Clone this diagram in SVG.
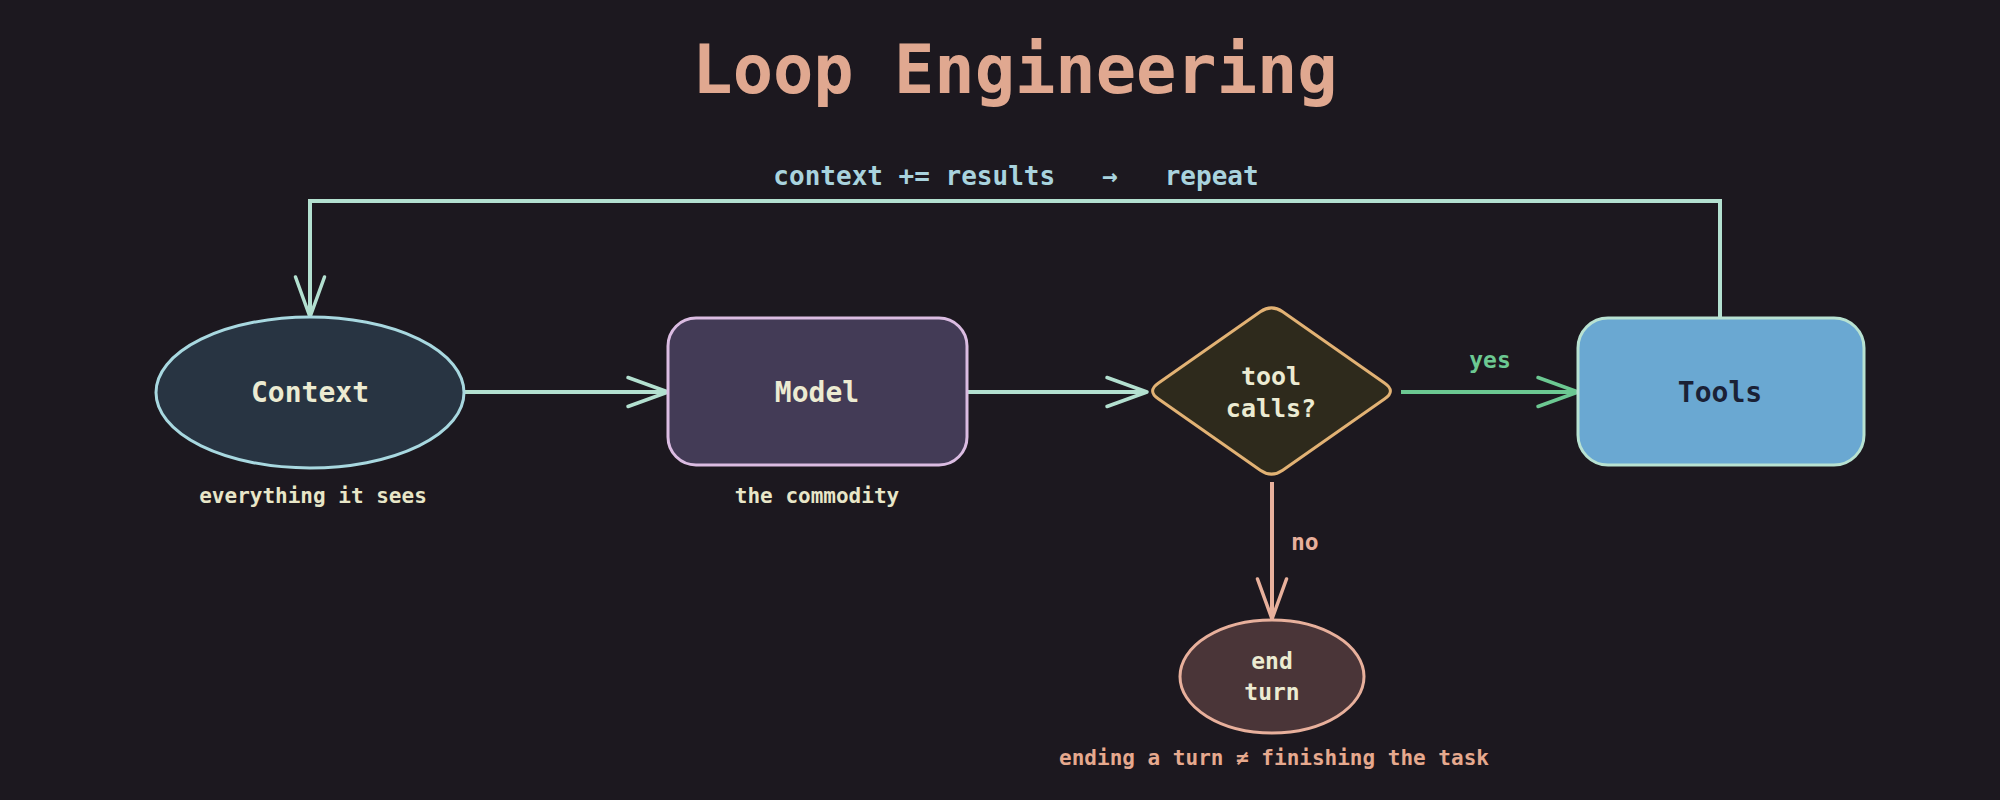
<svg xmlns="http://www.w3.org/2000/svg" width="2000" height="800" viewBox="0 0 2000 800">
  <style>
    text { font-family: "DejaVu Sans Mono", "Liberation Mono", monospace; font-weight: bold; }
    .title { font-size: 67px; fill: #e0a890; }
    .loop { font-size: 26px; fill: #a9d3de; white-space: pre; }
    .lbl { font-size: 28px; fill: #ecebd2; }
    .dlbl { font-size: 25px; fill: #ecebd2; }
    .elbl { font-size: 23px; fill: #ecebd2; }
    .sub { font-size: 21px; fill: #e8e6c8; }
    .foot { font-size: 21px; fill: #e6a98e; }
    .yes { font-size: 23px; fill: #6cc892; }
    .no { font-size: 23px; fill: #e8b09c; }
    .conn { fill: none; stroke-width: 4; stroke-linejoin: miter; }
    .mint { stroke: #b3e0d0; }
    .green { stroke: #6cc892; }
    .salmon { stroke: #e8b09c; }
  </style>
  <defs>
    <marker id="arr-mint" markerUnits="userSpaceOnUse" viewBox="-44 -18 48 36" markerWidth="48" markerHeight="36" refX="0" refY="0" orient="auto">
      <path d="M-40,-14.5 L0,0 L-40,14.5" fill="none" stroke="#b3e0d0" stroke-width="3.5" stroke-linecap="round" stroke-linejoin="round"/>
    </marker>
    <marker id="arr-green" markerUnits="userSpaceOnUse" viewBox="-44 -18 48 36" markerWidth="48" markerHeight="36" refX="0" refY="0" orient="auto">
      <path d="M-40,-14.5 L0,0 L-40,14.5" fill="none" stroke="#6cc892" stroke-width="3.5" stroke-linecap="round" stroke-linejoin="round"/>
    </marker>
    <marker id="arr-salmon" markerUnits="userSpaceOnUse" viewBox="-44 -18 48 36" markerWidth="48" markerHeight="36" refX="0" refY="0" orient="auto">
      <path d="M-40,-14.5 L0,0 L-40,14.5" fill="none" stroke="#e8b09c" stroke-width="3.5" stroke-linecap="round" stroke-linejoin="round"/>
    </marker>
  </defs>
  <rect x="0" y="0" width="2000" height="800" fill="#1c181f"/>

  <text class="title" x="1015" y="93" text-anchor="middle">Loop Engineering</text>

  <g id="connectors">
    <path class="conn mint" d="M1720,318 V201 H310 V317" marker-end="url(#arr-mint)"/>
    <path class="conn mint" d="M464,392 H668" marker-end="url(#arr-mint)"/>
    <path class="conn mint" d="M967,392 H1147" marker-end="url(#arr-mint)"/>
    <path class="conn green" d="M1401,392 H1578" marker-end="url(#arr-green)"/>
    <path class="conn salmon" d="M1272,482 V619" marker-end="url(#arr-salmon)"/>
    <text class="loop" x="1016" y="185" text-anchor="middle">context += results   →   repeat</text>
    <text class="yes" x="1490" y="368" text-anchor="middle">yes</text>
    <text class="no" x="1291" y="550">no</text>
  </g>

  <g id="context">
    <ellipse cx="310" cy="392.5" rx="154" ry="75.5" fill="#283442" stroke="#a8d8e0" stroke-width="3"/>
    <text class="lbl" x="310" y="402" text-anchor="middle">Context</text>
    <text class="sub" x="313" y="503" text-anchor="middle">everything it sees</text>
  </g>

  <g id="model">
    <rect x="668" y="318" width="299" height="147" rx="28" fill="#433b56" stroke="#dbbce2" stroke-width="3"/>
    <text class="lbl" x="817" y="402" text-anchor="middle">Model</text>
    <text class="sub" x="817" y="503" text-anchor="middle">the commodity</text>
  </g>

  <g id="decision">
    <path d="M1158.2,383.2 L1260.3,311.8 Q1271.5,304 1282.7,311.8 L1384.8,383.2 Q1396,391 1384.8,398.8 L1282.7,470.2 Q1271.5,478 1260.3,470.2 L1158.2,398.8 Q1147,391 1158.2,383.2 Z" fill="#2e2a1c" stroke="#e2b274" stroke-width="3"/>
    <text class="dlbl" x="1271" y="385" text-anchor="middle">tool</text>
    <text class="dlbl" x="1271" y="417" text-anchor="middle">calls?</text>
  </g>

  <g id="tools">
    <rect x="1578" y="318" width="286" height="147" rx="30" fill="#6aa8d2" stroke="#b8e2d2" stroke-width="3"/>
    <text class="lbl" x="1720" y="402" text-anchor="middle" style="fill:#1a2136">Tools</text>
  </g>

  <g id="end-turn">
    <ellipse cx="1272" cy="676.5" rx="92" ry="56.5" fill="#4a3538" stroke="#e8b09c" stroke-width="3"/>
    <text class="elbl" x="1272" y="669" text-anchor="middle">end</text>
    <text class="elbl" x="1272" y="700" text-anchor="middle">turn</text>
    <text class="foot" x="1274" y="765" text-anchor="middle">ending a turn ≠ finishing the task</text>
  </g>
</svg>
